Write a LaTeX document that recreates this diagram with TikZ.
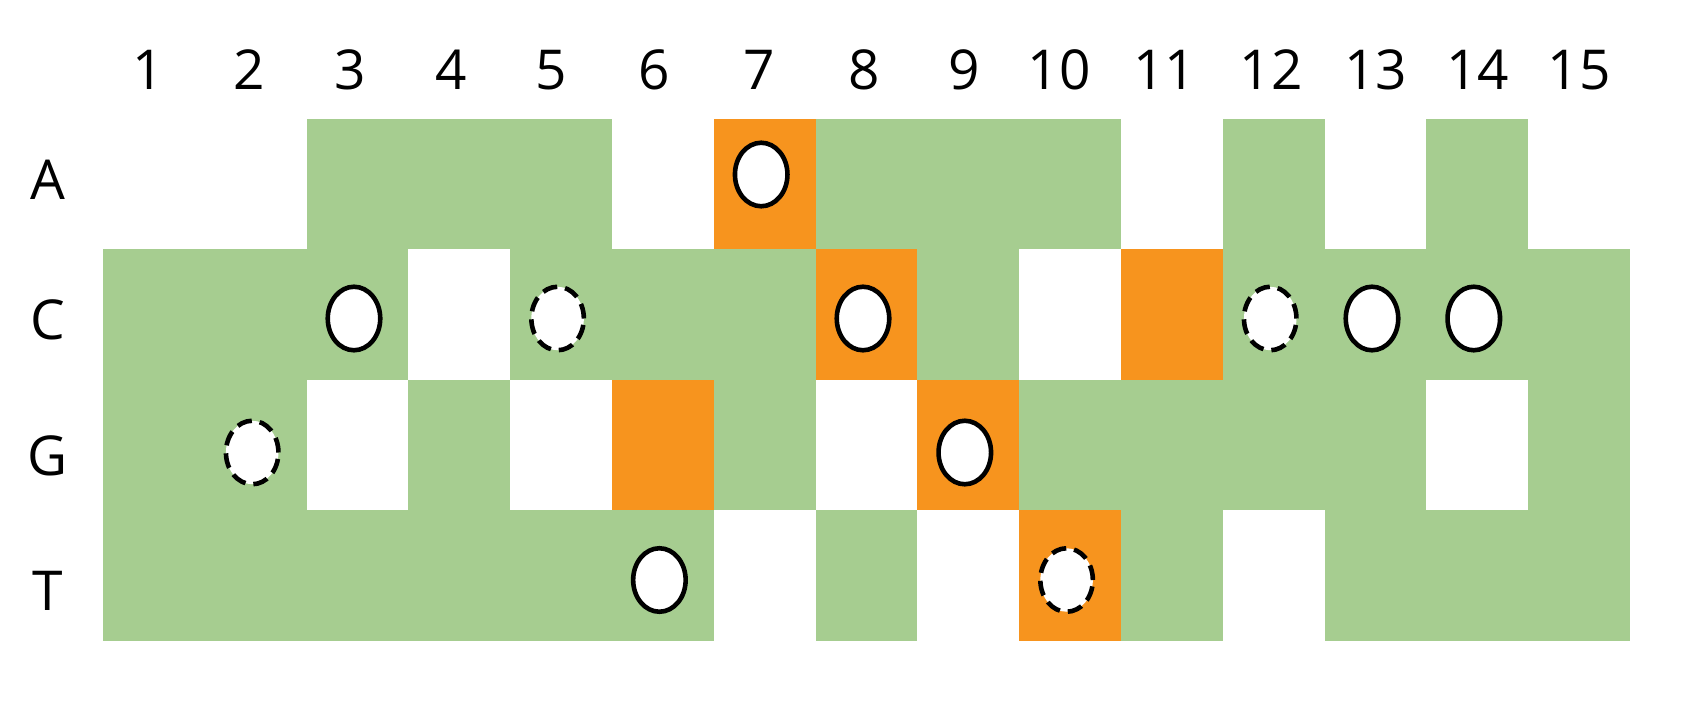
\documentclass[tikz,border=0pt]{standalone}
\usepackage{fontspec}
\setmainfont{Open Sans}
\usetikzlibrary{shapes.geometric}
\definecolor{cgreen}{RGB}{166,205,144}
\definecolor{corange}{RGB}{247,148,30}
\begin{document}
\begin{tikzpicture}[x=1pt,y=-1pt,
  lbl/.style={font=\fontsize{55}{60}\selectfont, anchor=base, inner sep=0pt},
  hole/.style={ellipse, draw=black, fill=white, line width=4.6pt, minimum width=52.5pt, minimum height=63.5pt, inner sep=0pt},
  dhole/.style={hole, dash pattern=on 15pt off 8pt},
  gcell/.style={fill=cgreen},
  ocell/.style={fill=corange}]
\useasboundingbox (0,0) rectangle (1705,709);
% green runs: row index / first col / last col
\foreach \r/\a/\b in {0/3/5,0/8/10,0/12/12,0/14/14,
                      1/1/3,1/5/7,1/9/9,1/12/15,
                      2/1/2,2/4/4,2/7/7,2/10/13,2/15/15,
                      3/1/6,3/8/8,3/11/11,3/13/15}
  \path[gcell] ({103+(\a-1)*101.8},{118.5+\r*130.6}) rectangle ({103+\b*101.8},{118.5+(\r+1)*130.6});
% orange cells
\foreach \r/\a in {0/7,1/8,1/11,2/6,2/9,3/10}
  \path[ocell] ({103+(\a-1)*101.8},{118.5+\r*130.6}) rectangle ({103+\a*101.8},{118.5+(\r+1)*130.6});
% column numbers
\foreach \x [count=\i] in {148,249.6,350,451.5,551.3,654,759.7,864,964,1059,1164.8,1271,1375.5,1477.5,1579}
  \node[lbl] (n\i) at (\x,89) {\i};
% row letters
\node[lbl] (rA) at (48,199) {A};
\node[lbl] (rC) at (48,339) {C};
\node[lbl] (rG) at (48,475) {G};
\node[lbl] (rT) at (48,610) {T};
% ellipses
\foreach \n/\c/\y in {A7/7/174.5,C3/3/318.5,C8/8/318.5,C13/13/318.5,C14/14/318.5,G9/9/452.5,T6/6/580}
  \node[hole] (h\n) at ({103+(\c-0.5)*101.8-3.5},\y) {};
\foreach \n/\c/\y in {C5/5/318.5,C12/12/318.5,G2/2/452.5,T10/10/580}
  \node[dhole] (h\n) at ({103+(\c-0.5)*101.8-3.5},\y) {};
\end{tikzpicture}
\end{document}
